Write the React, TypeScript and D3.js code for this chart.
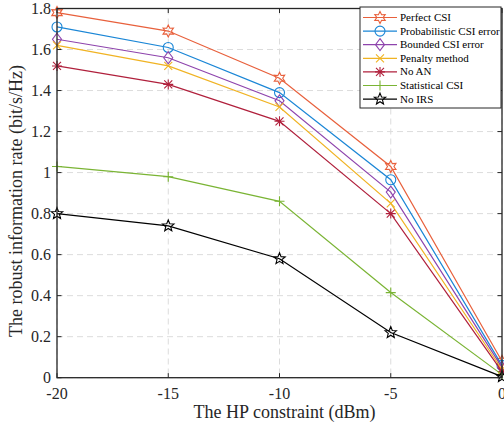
import React from "react";
import * as d3 from "d3";

const xValues = [-20, -15, -10, -5, 0];
const seriesNames = ["Perfect CSI", "Probabilistic CSI error", "Bounded CSI error", "Penalty method", "No AN", "Statistical CSI", "No IRS"];
const perfectCSI = [1.78, 1.69, 1.46, 1.03, 0.08];
const probabilistic = [1.71, 1.61, 1.39, 0.965, 0.06];
const bounded = [1.65, 1.56, 1.35, 0.905, 0.05];
const penalty = [1.62, 1.52, 1.32, 0.85, 0.04];
const noAN = [1.52, 1.43, 1.25, 0.80, 0.03];
const statistical = [1.03, 0.98, 0.86, 0.415, 0.015];
const noIRS = [0.80, 0.74, 0.58, 0.22, 0.005];
const xTicks = [-20, -15, -10, -5, 0];
const yTicks = [0, 0.2, 0.4, 0.6, 0.8, 1, 1.2, 1.4, 1.6, 1.8];

const colors = ["#E8603C", "#1A86D6", "#8E44AD", "#F0B323", "#B0203C", "#7AB434", "#000000"];
const markers = ["hexagram", "circle", "diamond", "x", "asterisk", "plus", "pentagram"];
const allSeries = [perfectCSI, probabilistic, bounded, penalty, noAN, statistical, noIRS];

const W = 504, H = 429;
const L = 57, R = 502, T = 8.5, B = 377.7;
const font = "'Liberation Serif', 'Times New Roman', serif";

function starPath(cx: number, cy: number, n: number, ro: number, ri: number) {
  const pts: string[] = [];
  for (let i = 0; i < 2 * n; i++) {
    const r = i % 2 === 0 ? ro : ri;
    const a = -Math.PI / 2 + (i * Math.PI) / n;
    pts.push(`${cx + r * Math.cos(a)},${cy + r * Math.sin(a)}`);
  }
  return "M" + pts.join("L") + "Z";
}

function Marker({ type, x, y, color }: { type: string; x: number; y: number; color: string }) {
  const sw = 1.1;
  switch (type) {
    case "hexagram":
      return <path d={starPath(x, y, 6, 6, 3.2)} fill="none" stroke={color} strokeWidth={sw} />;
    case "circle":
      return <circle cx={x} cy={y} r={5} fill="none" stroke={color} strokeWidth={sw} />;
    case "diamond":
      return <path d={`M${x},${y - 6}L${x + 4.5},${y}L${x},${y + 6}L${x - 4.5},${y}Z`} fill="none" stroke={color} strokeWidth={sw} />;
    case "x":
      return <path d={`M${x - 4},${y - 4}L${x + 4},${y + 4}M${x - 4},${y + 4}L${x + 4},${y - 4}`} stroke={color} strokeWidth={sw} />;
    case "asterisk":
      return <path d={`M${x - 4},${y - 4}L${x + 4},${y + 4}M${x - 4},${y + 4}L${x + 4},${y - 4}M${x},${y - 5}L${x},${y + 5}M${x - 5},${y}L${x + 5},${y}`} stroke={color} strokeWidth={sw} />;
    case "plus":
      return <path d={`M${x},${y - 5}L${x},${y + 5}M${x - 5},${y}L${x + 5},${y}`} stroke={color} strokeWidth={sw} />;
    case "pentagram":
      return <path d={starPath(x, y, 5, 6, 2.6)} fill="none" stroke={color} strokeWidth={sw} />;
  }
  return null;
}

export default function App() {
  const x = d3.scaleLinear().domain([-20, 0]).range([L, R]);
  const y = d3.scaleLinear().domain([0, 1.8]).range([B, T]);
  const line = d3.line<number>().x((_, i) => x(xValues[i])).y((d) => y(d));

  const legX = 360, legY = 7, legW = 141, legH = 101;
  const rowH = 13.6;

  return (
    <svg width={W} height={H} style={{ position: "absolute", left: 0, top: 0 }} fontFamily={font}>
      <rect x={0} y={0} width={W} height={H} fill="#fff" />
      {/* grid */}
      {xTicks.map((t) => (
        <line key={"gx" + t} x1={x(t)} x2={x(t)} y1={T} y2={B} stroke="#dcdcdc" strokeDasharray="6,4" strokeWidth={1} />
      ))}
      {yTicks.map((t) => (
        <line key={"gy" + t} x1={L} x2={R} y1={y(t)} y2={y(t)} stroke="#dcdcdc" strokeDasharray="6,4" strokeWidth={1} />
      ))}
      {/* series */}
      {allSeries.map((s, k) => (
        <g key={"s" + k}>
          <path d={line(s) || ""} fill="none" stroke={colors[k]} strokeWidth={1.2} />
          {s.map((v, i) => (
            <Marker key={i} type={markers[k]} x={x(xValues[i])} y={y(v)} color={colors[k]} />
          ))}
        </g>
      ))}
      {/* frame */}
      <rect x={L} y={T} width={R - L} height={B - T} fill="none" stroke="#262626" strokeWidth={1.3} />
      {xTicks.map((t) => (
        <g key={"xt" + t}>
          <line x1={x(t)} x2={x(t)} y1={B} y2={B - 4.5} stroke="#262626" />
          <line x1={x(t)} x2={x(t)} y1={T} y2={T + 4.5} stroke="#262626" />
          <text x={x(t)} y={399} textAnchor="middle" fontSize={16} fill="#262626">{t}</text>
        </g>
      ))}
      {yTicks.map((t) => (
        <g key={"yt" + t}>
          <line x1={L} x2={L + 4.5} y1={y(t)} y2={y(t)} stroke="#262626" />
          <line x1={R} x2={R - 4.5} y1={y(t)} y2={y(t)} stroke="#262626" />
          <text x={51} y={y(t) + 5.5} textAnchor="end" fontSize={16} fill="#262626">{t}</text>
        </g>
      ))}
      <text x={(L + R) / 2 + 5} y={418} textAnchor="middle" fontSize={18} fill="#262626">The HP constraint (dBm)</text>
      <text transform={`translate(22,${201}) rotate(-90)`} textAnchor="middle" fontSize={18} fill="#262626">
        The robust information rate (bit/s/Hz)
      </text>
      {/* legend */}
      <rect x={legX} y={legY} width={legW} height={legH} fill="#fff" stroke="#262626" strokeWidth={1} />
      {seriesNames.map((n, k) => {
        const cy = legY + 10.5 + k * rowH;
        return (
          <g key={"l" + k}>
            <line x1={363} x2={397} y1={cy} y2={cy} stroke={colors[k]} strokeWidth={1.2} />
            <Marker type={markers[k]} x={380} y={cy} color={colors[k]} />
            <text x={400} y={cy + 3.5} fontSize={11} fill="#000">{n}</text>
          </g>
        );
      })}
    </svg>
  );
}
